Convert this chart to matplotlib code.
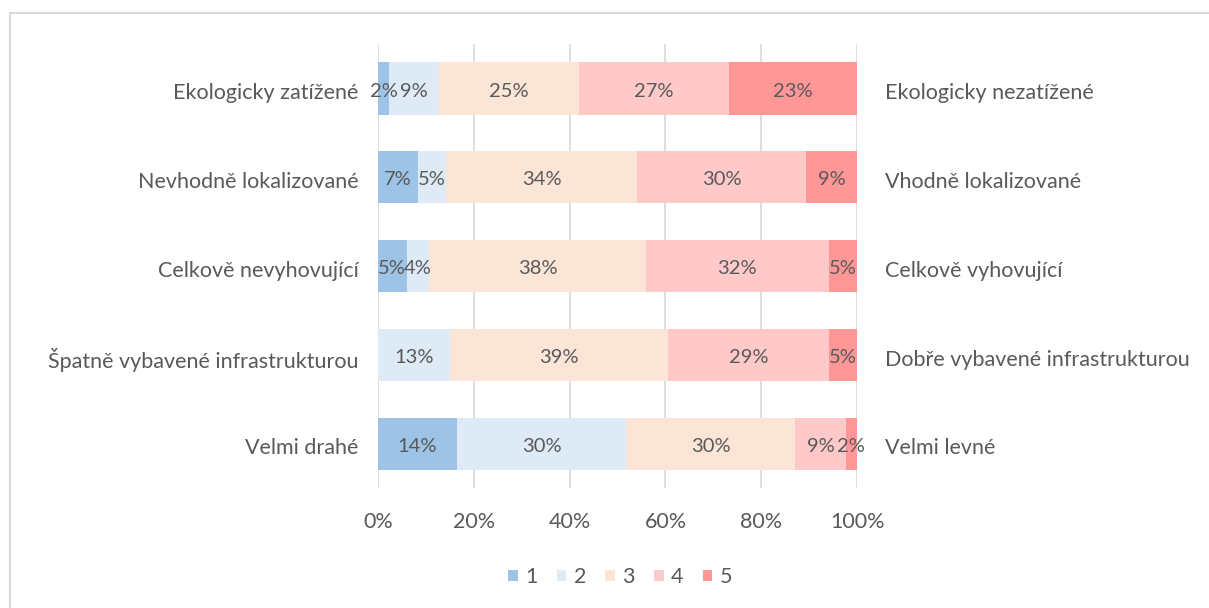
import matplotlib.pyplot as plt
from matplotlib.patches import Rectangle
import numpy as np

plt.rcParams['font.family'] = ['Lato', 'DejaVu Sans']

left_labels = ['Ekologicky zatížené', 'Nevhodně lokalizované', 'Celkově nevyhovující',
               'Špatně vybavené infrastrukturou', 'Velmi drahé']
right_labels = ['Ekologicky nezatížené', 'Vhodně lokalizované', 'Celkově vyhovující',
                'Dobře vybavené infrastrukturou', 'Velmi levné']
levels = ['1', '2', '3', '4', '5']
s1 = [2, 7, 5, 0, 14]
s2 = [9, 5, 4, 13, 30]
s3 = [25, 34, 38, 39, 30]
s4 = [27, 30, 32, 29, 9]
s5 = [23, 9, 5, 5, 2]
colors = ['#9DC3E6', '#DEEBF7', '#FBE5D6', '#FFC9C9', '#FF9797']
text_col = '#595959'
fs = 15.5

data = np.array([s1, s2, s3, s4, s5], dtype=float)
shares = data / data.sum(axis=0)

fig = plt.figure(figsize=(12.09, 6.08), dpi=100)
ax = fig.add_axes([0.3127, 0.197, 0.3962, 0.7306])
y = np.arange(len(left_labels))
left = np.zeros(len(left_labels))
for i in range(5):
    bars = ax.barh(y, shares[i], left=left, height=0.59, color=colors[i], label=levels[i], zorder=3)
    for j, b in enumerate(bars):
        if data[i, j] > 0:
            ax.text(left[j] + shares[i, j] / 2, y[j] + 0.03, f'{int(data[i, j])}%', ha='center', va='center',
                    fontsize=14.5, color=text_col, zorder=4)
    left += shares[i]

ax.set_xlim(0, 1)
ax.set_ylim(len(left_labels) - 0.5, -0.5)
ax.set_xticks(np.linspace(0, 1, 6))
ax.set_xticklabels([f'{int(v)}%' for v in np.linspace(0, 100, 6)])
ax.set_yticks(y + 0.03)
ax.set_yticklabels(left_labels)
ax.tick_params(axis='both', length=0, labelsize=fs, labelcolor=text_col)
ax.tick_params(axis='y', pad=14)
ax.tick_params(axis='x', pad=17)
ax.grid(axis='x', color='#D9D9D9', linewidth=1.2, zorder=0)
for s in ax.spines.values():
    s.set_visible(False)

ax2 = ax.twinx()
ax2.set_ylim(ax.get_ylim())
ax2.set_yticks(y + 0.03)
ax2.set_yticklabels(right_labels)
ax2.tick_params(axis='y', length=0, labelsize=fs, labelcolor=text_col, pad=20)
for s in ax2.spines.values():
    s.set_visible(False)

handles, labs = ax.get_legend_handles_labels()
fig.legend(handles, labs, loc='center', bbox_to_anchor=(0.513, 0.051), ncol=5, frameon=False,
           fontsize=fs, labelcolor=text_col, handlelength=0.45, handleheight=0.45,
           handletextpad=0.35, columnspacing=0.88)

fig.patches.append(Rectangle((10 / 1209, -0.05), 1.1, 1 - 13 / 608 + 0.05, transform=fig.transFigure,
                             fill=False, edgecolor='#D9D9D9', linewidth=1.5))

fig.savefig('out.png', dpi=100, facecolor='white')
